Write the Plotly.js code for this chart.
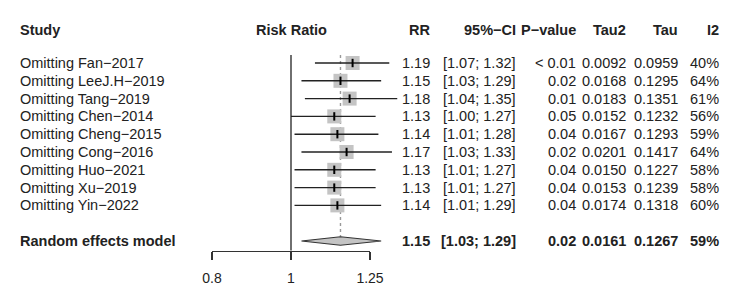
<!DOCTYPE html>
<html>
<head>
<meta charset="utf-8">
<script src="https://cdn.plot.ly/plotly-3.0.1.min.js"></script>
<style>html,body{margin:0;padding:0;background:#fff;}#chart{width:750px;height:304px;}</style>
</head>
<body>
<div id="chart"></div>
<script>
// ---- data ----
const studies = ["Omitting Fan−2017","Omitting LeeJ.H−2019","Omitting Tang−2019","Omitting Chen−2014","Omitting Cheng−2015","Omitting Cong−2016","Omitting Huo−2021","Omitting Xu−2019","Omitting Yin−2022"];
const rr    = [1.19, 1.15, 1.18, 1.13, 1.14, 1.17, 1.13, 1.13, 1.14];
const lower = [1.07, 1.03, 1.04, 1.00, 1.01, 1.03, 1.01, 1.01, 1.01];
const upper = [1.32, 1.29, 1.35, 1.27, 1.28, 1.33, 1.27, 1.27, 1.29];
const pval  = ["< 0.01","0.02","0.01","0.05","0.04","0.02","0.04","0.04","0.04"];
const tau2  = ["0.0092","0.0168","0.0183","0.0152","0.0167","0.0201","0.0150","0.0153","0.0174"];
const tau   = ["0.0959","0.1295","0.1351","0.1232","0.1293","0.1417","0.1227","0.1239","0.1318"];
const i2    = ["40%","64%","61%","56%","59%","64%","58%","58%","60%"];
const pooledLabel = "Random effects model";
const pooled = {rr: 1.15, lower: 1.03, upper: 1.29, p: "0.02", tau2: "0.0161", tau: "0.1267", i2: "59%"};
const headers = ["Study","Risk Ratio","RR","95%−CI","P−value","Tau2","Tau","I2"];
const tickVals = [0.8, 1, 1.25];
const tickText = ["0.8","1","1.25"];
const nullValue = 1;

// ---- layout constants ----
const W = 750, H = 304;
const rowTop = 63, rowStep = 17.8;     // pixel position of first row and spacing
const pxOne = 291, pxPerDecade = 815.2; // x mapping
const pooledRow = studies.length + 1;
const headerRow = (30 - rowTop) / rowStep;
const axisPx = 250.5;
const axisRow = (axisPx - rowTop) / rowStep;
const lineTopRow = (55 - rowTop) / rowStep;
const diamondHalf = 0.24;
const FONT = "Liberation Sans, Arial, Helvetica, sans-serif";
const txtColor = "#222";
const bodySize = 14.5, headSize = 14.5;

const rows = studies.map((_, i) => i);
const fmt = v => v.toFixed(2);
const ciText = (lo, hi) => "[" + fmt(lo) + "; " + fmt(hi) + "]";

// CI segments
const ciX = [], ciY = [];
rows.forEach(i => { ciX.push(lower[i], upper[i], null); ciY.push(i, i, null); });

const traces = [
  // reference line at null value
  {x: [nullValue, nullValue], y: [lineTopRow, axisRow], mode: "lines",
   line: {color: "#333", width: 1.4}, hoverinfo: "skip", xaxis: "x", yaxis: "y"},
  // dotted line at pooled estimate
  {x: [pooled.rr, pooled.rr], y: [lineTopRow, pooledRow - diamondHalf], mode: "lines",
   line: {color: "#999", width: 1.4, dash: "dot"}, hoverinfo: "skip"},
  // squares
  {x: rr, y: rows, mode: "markers", marker: {symbol: "square", size: 14, color: "#C4C4C4", line: {width: 0}}, hoverinfo: "skip"},
  // CI lines
  {x: ciX, y: ciY, mode: "lines", line: {color: "#222", width: 1.4}, hoverinfo: "skip"},
  // point ticks
  {x: rr, y: rows, mode: "markers", marker: {symbol: "line-ns", size: 6, line: {color: "#000", width: 2}}, hoverinfo: "skip"},
  // diamond
  {x: [pooled.lower, pooled.rr, pooled.upper, pooled.rr, pooled.lower],
   y: [pooledRow, pooledRow - diamondHalf, pooledRow, pooledRow + diamondHalf, pooledRow],
   mode: "lines", fill: "toself", fillcolor: "#C4C4C4", line: {color: "#333", width: 1.2}, hoverinfo: "skip"},
  // dummy trace for the visible scale axis
  {x: tickVals, y: tickVals.map(() => 0), mode: "markers", marker: {opacity: 0}, hoverinfo: "skip", xaxis: "x2", yaxis: "y2"}
];

const ann = [];
function addText(text, xpx, row, anchor, bold, size) {
  ann.push({text: bold ? "<b>" + text + "</b>" : text, xref: "paper", yref: "y",
    x: xpx / W, y: row, xanchor: anchor, yanchor: "middle", showarrow: false,
    font: {family: FONT, size: size || bodySize, color: txtColor}});
}
// column positions (right edges for numeric columns)
const colStudy = 18, colRiskRatio = pxOne, colRR = 432, colCI = 518, colP = 578, colTau2 = 628, colTau = 680, colI2 = 721;

addText(headers[0], colStudy, headerRow, "left", true, headSize);
addText(headers[1], colRiskRatio, headerRow, "center", true, headSize);
addText(headers[2], colRR, headerRow, "right", true, headSize);
addText(headers[3], colCI, headerRow, "right", true, headSize);
addText(headers[4], colP, headerRow, "right", true, headSize);
addText(headers[5], colTau2, headerRow, "right", true, headSize);
addText(headers[6], colTau, headerRow, "right", true, headSize);
addText(headers[7], colI2, headerRow, "right", true, headSize);

rows.forEach(i => {
  addText(studies[i], colStudy, i, "left", false);
  addText(fmt(rr[i]), colRR, i, "right", false);
  addText(ciText(lower[i], upper[i]), colCI, i, "right", false);
  addText(pval[i], colP, i, "right", false);
  addText(tau2[i], colTau2, i, "right", false);
  addText(tau[i], colTau, i, "right", false);
  addText(i2[i], colI2, i, "right", false);
});
addText(pooledLabel, colStudy, pooledRow, "left", true);
addText(fmt(pooled.rr), colRR, pooledRow, "right", true);
addText(ciText(pooled.lower, pooled.upper), colCI, pooledRow, "right", true);
addText(pooled.p, colP, pooledRow, "right", true);
addText(pooled.tau2, colTau2, pooledRow, "right", true);
addText(pooled.tau, colTau, pooledRow, "right", true);
addText(pooled.i2, colI2, pooledRow, "right", true);

const layout = {
  width: W, height: H, margin: {l: 0, r: 0, t: 0, b: 0},
  paper_bgcolor: "#fff", plot_bgcolor: "rgba(0,0,0,0)", showlegend: false,
  xaxis: {type: "log", range: [-pxOne / pxPerDecade, (W - pxOne) / pxPerDecade], domain: [0, 1],
          visible: false, fixedrange: true},
  yaxis: {range: [(H - rowTop) / rowStep, -rowTop / rowStep], domain: [0, 1], visible: false, fixedrange: true},
  xaxis2: {type: "log", range: [Math.log10(tickVals[0]), Math.log10(tickVals[tickVals.length - 1])],
           domain: [212 / W, 370 / W], anchor: "y2", showline: true, linecolor: "#333", linewidth: 1.3,
           ticks: "outside", ticklen: 8, tickwidth: 1.3, tickcolor: "#333",
           tickmode: "array", tickvals: tickVals, ticktext: tickText,
           tickfont: {family: FONT, size: 14, color: txtColor}, ticklabelstandoff: 6,
           showgrid: false, zeroline: false, fixedrange: true},
  yaxis2: {domain: [1 - axisPx / H, 1 - axisPx / H + 0.005], anchor: "x2", range: [0, 1], visible: false, fixedrange: true},
  annotations: ann
};

Plotly.newPlot("chart", traces, layout, {staticPlot: true, displayModeBar: false});
</script>
</body>
</html>
